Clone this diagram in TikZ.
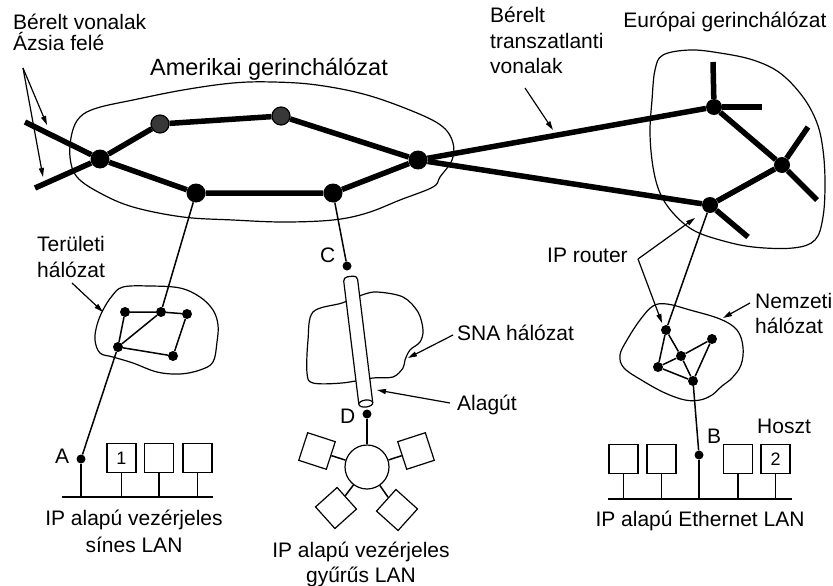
\documentclass[tikz,border=0pt]{standalone}
\usepackage{fontspec}
\setmainfont{Liberation Sans}
\usetikzlibrary{arrows.meta}
\begin{document}
\begin{tikzpicture}[x=1pt,y=-1pt,
  txt/.style={font=\fontsize{21}{25}\selectfont, inner sep=0pt, anchor=base west},
  ctxt/.style={font=\fontsize{21}{25}\selectfont, inner sep=0pt, anchor=base},
  trunk/.style={line width=5.5pt},
  wire/.style={line width=1.5pt},
  outline/.style={line width=1.2pt},
  bigrouter/.style={circle, fill=black, inner sep=0pt, minimum size=19pt},
  greyrouter/.style={circle, fill=black!78, draw=black, line width=1.2pt, inner sep=0pt, minimum size=18pt},
  eurorouter/.style={circle, fill=black, inner sep=0pt, minimum size=16pt},
  smallrouter/.style={circle, fill=black, inner sep=0pt, minimum size=10pt},
  endpoint/.style={circle, fill=black, inner sep=0pt, minimum size=9pt},
  host/.style={draw, line width=1.2pt, fill=white, minimum size=29pt, inner sep=0pt, font=\fontsize{18}{18}\selectfont},
  pointer/.style={line width=1.2pt, -{Triangle[length=9pt,width=5pt]}},
]
\useasboundingbox (0,0) rectangle (833,586);

% ---------- cloud outlines ----------
% American backbone
\draw[outline] plot[smooth cycle, tension=0.6] coordinates {
  (70,157) (72,133) (80,117) (97,108) (133,100) (183,90) (233,83) (273,82)
  (317,85) (367,95) (417,113) (443,127) (453,143) (452,160) (440,177)
  (433,187) (400,200) (367,213) (333,220) (283,222) (233,220) (183,217)
  (133,207) (100,193) (77,177)};
% European backbone
\draw[outline] plot[smooth cycle, tension=0.6] coordinates {
  (663,55) (690,50) (720,53) (753,60) (780,73) (803,97) (817,123) (823,150)
  (825,183) (823,217) (815,240) (793,248) (753,247) (720,240) (693,230)
  (673,213) (660,193) (653,167) (650,133) (652,100) (655,70)};
% regional network
\draw[outline] plot[smooth cycle, tension=0.6] coordinates {
  (123,287) (150,286) (180,288) (200,297) (213,310) (218,325) (217,342)
  (213,362) (200,370) (180,374) (157,372) (133,363) (113,357) (100,353)
  (95,340) (97,325) (103,310) (112,296)};
% national network
\draw[outline] plot[smooth cycle, tension=0.6] coordinates {
  (653,306) (667,304) (690,310) (720,319) (737,330) (743,347) (741,365)
  (732,378) (722,386) (712,395) (700,400) (685,400) (665,393) (643,381)
  (624,368) (620,355) (627,340) (640,320)};
% SNA network
\draw[outline] plot[smooth cycle, tension=0.55] coordinates {
  (313,312) (342,303) (362,295) (377,292) (403,297) (418,312) (423,330)
  (420,342) (410,350) (405,360) (403,368) (393,377) (373,378) (342,383)
  (313,383) (307,373) (308,340)};

% ---------- backbone routers ----------
\node[bigrouter]  (aH)  at (100,159) {};
\node[greyrouter] (aTL) at (160,124) {};
\node[greyrouter] (aTR) at (281,116) {};
\node[bigrouter]  (aR)  at (418,160) {};
\node[bigrouter]  (aBL) at (196,193) {};
\node[bigrouter]  (aBR) at (333,193) {};
\node[eurorouter] (eT)  at (714,107) {};
\node[eurorouter] (eR)  at (782,165) {};
\node[eurorouter] (eB)  at (710,205) {};

\coordinate (asiaU) at (25,122);
\coordinate (asiaL) at (35,188);
\coordinate (eTup) at (713,62);
\coordinate (eTright) at (762,107);
\coordinate (eRup) at (808,127);
\coordinate (eRdown) at (817,200);
\coordinate (eBdown) at (748,237);

\draw[trunk] (asiaU) -- (aH) -- (aBL) -- (aBR) -- (aR);
\draw[trunk] (asiaL) -- (aH) -- (aTL) -- (aTR) -- (aR);
\draw[trunk] (aR) -- (eT);
\draw[trunk] (aR) -- (eB);
\draw[trunk] (eT) -- (eR) -- (eB);
\draw[trunk] (eT) -- (eTup);
\draw[trunk] (eT) -- (eTright);
\draw[trunk] (eR) -- (eRup);
\draw[trunk] (eR) -- (eRdown);
\draw[trunk] (eB) -- (eBdown);

% ---------- regional network ----------
\node[smallrouter] (t1) at (125,312) {};
\node[smallrouter] (t2) at (161,312) {};
\node[smallrouter] (t3) at (187,314) {};
\node[smallrouter] (t4) at (118,347) {};
\node[smallrouter] (t5) at (173,356) {};
\draw[wire] (t1) -- (t2) -- (t3) -- (t5) -- (t4) -- (t1);
\draw[wire] (t4) -- (t2);
\draw[wire] (aBL) -- (t2);

% ---------- national network ----------
\node[smallrouter] (n1) at (666,330) {};
\node[smallrouter] (n2) at (681,356) {};
\node[smallrouter] (n3) at (712,339) {};
\node[smallrouter] (n4) at (658,367) {};
\node[smallrouter] (n5) at (693,381) {};
\draw[wire] (n1) -- (n4) -- (n5) -- (n3) -- (n2) -- (n1);
\draw[wire] (n2) -- (n5);
\draw[wire] (n4) -- (n2);
\draw[wire] (eB) -- (n1);

% ---------- tunnel through the SNA network ----------
\node[endpoint] (C) at (347,266) {};
\draw[wire] (aBR) -- (C);
\begin{scope}[shift={(358,340)}, rotate=7]
  \coordinate (tunTop) at (0,-64);
  \coordinate (tunBot) at (0,64);
  \draw[outline, fill=white, rounded corners=4pt] (-7,64) -- (-7,-64) -- (7,-64) -- (7,64);
  \draw[outline, fill=white] (tunBot) ellipse [x radius=7pt, y radius=3.5pt];
\end{scope}
\node[endpoint] (D) at (367,414) {};

% ---------- token ring LAN ----------
\node[circle, draw, line width=1.2pt, fill=white, minimum size=44pt, inner sep=0pt] (ring) at (367,467) {};
\node[host, rotate=-18] (rUL) at (317,451) {};
\node[host, rotate=18]  (rUR) at (416,451) {};
\node[host, rotate=42]  (rLL) at (336,508) {};
\node[host, rotate=-42] (rLR) at (397,510) {};
\draw[wire] (D) -- (ring);
\draw[wire] (ring) -- (rUL);
\draw[wire] (ring) -- (rUR);
\draw[wire] (ring) -- (rLL);
\draw[wire] (ring) -- (rLR);

% ---------- token bus LAN ----------
\node[endpoint] (A) at (81,459) {};
\draw[wire] (t4) -- (A);
\coordinate (busAL) at (62,497);
\coordinate (busAR) at (213,497);
\draw[wire] (busAL) -- (busAR);
\node[host] (h1) at (121.5,458) {1};
\node[host] (h2) at (159,458) {};
\node[host] (h3) at (197.5,458) {};
\draw[wire] (A) -- (A |- busAL);
\foreach \h in {h1,h2,h3} \draw[wire] (\h.south) -- (\h.south |- busAL);

% ---------- Ethernet LAN ----------
\node[endpoint] (B) at (699,455) {};
\draw[wire] (n5) -- (B);
\coordinate (busBL) at (608,499);
\coordinate (busBR) at (792,499);
\draw[wire] (busBL) -- (busBR);
\node[host] (e1) at (623.5,459) {};
\node[host] (e2) at (661.5,459) {};
\node[host] (e3) at (738,459) {};
\node[host] (e4) at (775.5,459) {2};
\draw[wire] (B) -- (B |- busBL);
\foreach \h in {e1,e2,e3,e4} \draw[wire] (\h.south) -- (\h.south |- busBL);

% ---------- labels ----------
\node[txt] (lAsia1) at (13,30) {Bérelt vonalak};
\node[txt] (lAsia2) at (13,51) {Ázsia felé};
\node[ctxt, font=\fontsize{23.5}{28}\selectfont] (lAm) at (269,75) {Amerikai gerinchálózat};
\node[txt] (lTr1) at (490,23) {Bérelt};
\node[txt] (lTr2) at (490,49) {transzatlanti};
\node[txt] (lTr3) at (490,74) {vonalak};
\node[ctxt] (lEu) at (725,28) {Európai gerinchálózat};
\node[txt] (lTer1) at (37,251) {Területi};
\node[txt] (lTer2) at (37,277) {hálózat};
\node[txt] (lIP) at (547,262) {IP router};
\node[txt] (lNat1) at (755,308) {Nemzeti};
\node[txt] (lNat2) at (755,333) {hálózat};
\node[txt] (lSNA) at (457,340) {SNA hálózat};
\node[txt] (lTun) at (457,410) {Alagút};
\node[txt] (lA) at (55,463) {A};
\node[txt] (lB) at (707,443) {B};
\node[txt] (lC) at (320,262) {C};
\node[txt] (lD) at (340,423) {D};
\node[txt] (lHost) at (757,433) {Hoszt};
\node[ctxt] (lBus1) at (134,525) {IP alapú vezérjeles};
\node[ctxt] (lBus2) at (134,552) {sínes LAN};
\node[ctxt] (lRing1) at (361,557) {IP alapú vezérjeles};
\node[ctxt] (lRing2) at (361,582) {gyűrűs LAN};
\node[ctxt] (lEth) at (700,526) {IP alapú Ethernet LAN};

% ---------- pointers ----------
\coordinate (asiaFork) at (23,68);
\coordinate (asiaTipU) at (47,125);
\coordinate (asiaTipL) at (43,177);
\draw[pointer] (asiaFork) -- (asiaTipU);
\draw[pointer] (asiaFork) -- (asiaTipL);
\coordinate (trFrom) at (525,88);
\coordinate (trTip) at (553,130);
\draw[pointer] (trFrom) -- (trTip);
\coordinate (terFrom) at (72,283);
\coordinate (terTip) at (103,312);
\draw[pointer] (terFrom) -- (terTip);
\coordinate (snaFrom) at (453,335);
\coordinate (snaTip) at (408,358);
\draw[pointer] (snaFrom) -- (snaTip);
\coordinate (tunFrom) at (450,403);
\coordinate (tunTip) at (377,390);
\draw[pointer] (tunFrom) -- (tunTip);
\coordinate (ipFork) at (638,259);
\coordinate (ipTipE) at (695,218);
\coordinate (ipTipN) at (662,323);
\draw[pointer] (ipFork) -- (ipTipE);
\draw[pointer] (ipFork) -- (ipTipN);
\coordinate (natFrom) at (750,303);
\coordinate (natTip) at (723,318);
\draw[pointer] (natFrom) -- (natTip);
\end{tikzpicture}
\end{document}
